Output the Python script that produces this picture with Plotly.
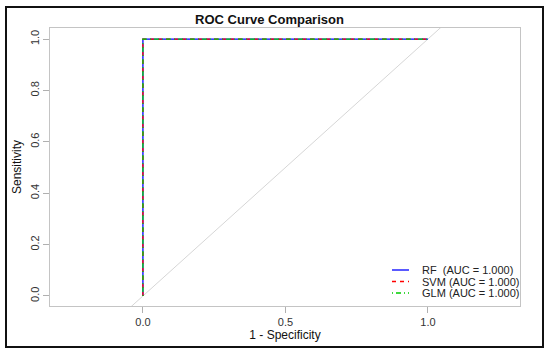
import plotly.graph_objects as go

models = ["RF", "SVM", "GLM"]
auc = [1.000, 1.000, 1.000]
fpr = [[0.0, 0.0, 1.0], [0.0, 0.0, 1.0], [0.0, 0.0, 1.0]]
tpr = [[0.0, 1.0, 1.0], [0.0, 1.0, 1.0], [0.0, 1.0, 1.0]]
colors = ["#0000FF", "#FF0000", "#00CD00"]
dashes = ["solid", "4px,4px", "1px,3px,5px,3px"]
x_ticks = [0.0, 0.5, 1.0]
y_ticks = [0.0, 0.2, 0.4, 0.6, 0.8, 1.0]
diag = [-0.5, 1.5]

FONT = "Liberation Sans, Arial, Helvetica, sans-serif"
x_range = [-0.326, 1.323]
y_range = [-0.039, 1.043]

L, R, T, B = 50, 30, 28, 48
W, H = 550, 354
pw, ph = W - L - R, H - T - B


def px_x(p):
    return (p - L) / pw


def px_y(p):
    return (H - B - p) / ph


fig = go.Figure()
fig.add_trace(go.Scatter(x=diag, y=diag, mode="lines",
                         line=dict(color="#d6d6d6", width=1),
                         showlegend=False, hoverinfo="skip"))
for m, a, fx, ty, c, d in zip(models, auc, fpr, tpr, colors, dashes):
    fig.add_trace(go.Scatter(x=fx, y=ty, mode="lines", name=m, showlegend=False,
                             line=dict(color=c, width=1.3, dash=d)))

axis_common = dict(showline=True, linecolor="#c4c4c4", linewidth=1, mirror=True,
                   showgrid=False, zeroline=False, ticks="outside", ticklen=6,
                   tickcolor="#b0b0b0", automargin=False,
                   tickfont=dict(size=11, color="#333333", family=FONT))

fig.update_xaxes(range=x_range, tickvals=x_ticks, ticktext=[f"{v:.1f}" for v in x_ticks],
                 title=dict(text="1 - Specificity", font=dict(size=12, color="#111111", family=FONT), standoff=3),
                 **axis_common)
fig.update_yaxes(range=y_range, tickvals=y_ticks, ticktext=[f"{v:.1f}" for v in y_ticks],
                 tickangle=-90,
                 title=dict(text="Sensitivity", font=dict(size=12, color="#111111", family=FONT), standoff=4),
                 **axis_common)

# outer frame and R-style legend (line samples + labels)
shapes = [dict(type="rect", xref="paper", yref="paper",
               x0=px_x(6), x1=px_x(543), y0=px_y(347), y1=px_y(7),
               line=dict(color="#111111", width=2), fillcolor="rgba(0,0,0,0)")]
annotations = []
for i, (m, a, c, d) in enumerate(zip(models, auc, colors, dashes)):
    yy = 270 + 11.5 * i
    shapes.append(dict(type="line", xref="paper", yref="paper",
                       x0=px_x(392), x1=px_x(409), y0=px_y(yy), y1=px_y(yy),
                       line=dict(color=c, width=1.3, dash=d), layer="above"))
    label = m + ("\u00a0\u00a0" if len(m) == 2 else "\u00a0") + f"(AUC = {a:.3f})"
    annotations.append(dict(text=label, xref="paper", yref="paper",
                            x=px_x(420), y=px_y(yy), xanchor="left", yanchor="middle",
                            showarrow=False,
                            font=dict(size=11, color="#222222", family=FONT)))

fig.update_layout(
    width=W, height=H,
    margin=dict(l=L, r=R, t=T, b=B),
    paper_bgcolor="white", plot_bgcolor="white",
    font=dict(family=FONT),
    showlegend=False,
    title=dict(text="<b>ROC Curve Comparison</b>", x=0.49, xanchor="center",
               y=1 - 19 / H, yanchor="middle",
               font=dict(size=13, color="#111111", family=FONT)),
    shapes=shapes,
    annotations=annotations,
)

fig.write_html("out.html", config={"displayModeBar": False},
               post_script="document.body.style.margin='0';")
